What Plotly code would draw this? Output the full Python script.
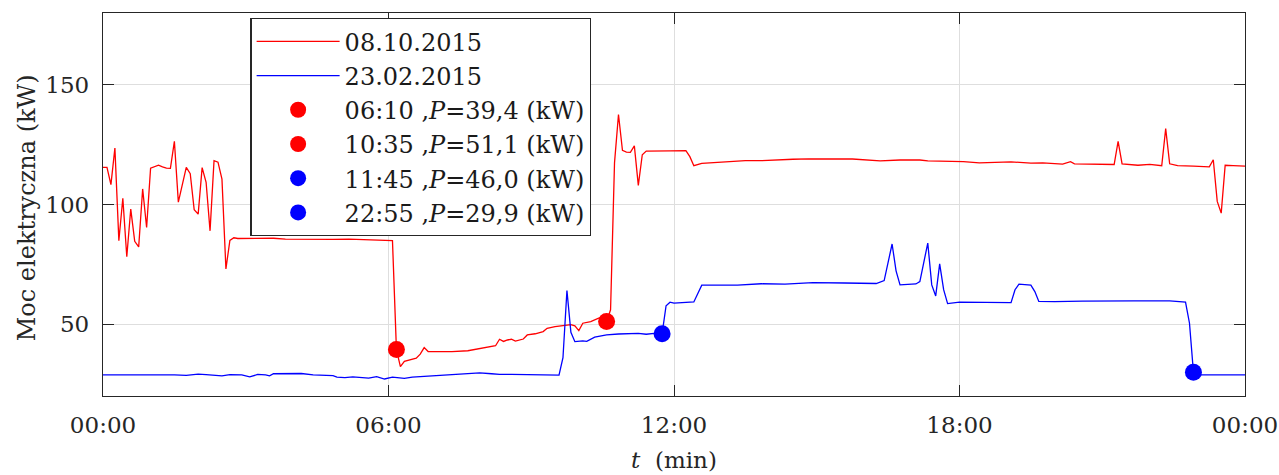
import plotly.graph_objects as go

# --- data (time in minutes from midnight, power in kW) ---
red_t = [0, 5, 10, 15, 20, 25, 30, 35, 40, 45, 50, 55, 60, 65, 70, 75, 80, 85, 90, 95,
         100, 105, 110, 115, 120, 125, 130, 135, 140, 145, 150, 155, 160, 165, 170, 180,
         200, 215, 230, 250, 270, 290, 310, 330, 350, 360, 365, 370, 375, 380, 390, 395,
         400, 405, 410, 420, 440, 460, 475, 490, 495, 500, 505, 510, 515, 520, 525, 530,
         535, 545, 555, 560, 570, 580, 590, 595, 600, 605, 615, 625, 630, 635, 640, 645,
         650, 655, 660, 665, 670, 675, 680, 685, 700, 715, 735, 740, 745, 755, 770, 790,
         810, 830, 850, 870, 890, 910, 930, 945, 955, 980, 1005, 1030, 1040, 1065, 1085,
         1105, 1125, 1145, 1170, 1185, 1210, 1220, 1225, 1245, 1270, 1275, 1280, 1285,
         1305, 1320, 1335, 1340, 1345, 1355, 1375, 1395, 1400, 1405, 1410, 1415, 1425, 1440]
red_p = [115.5, 115.5, 108.3, 123.6, 84.9, 102.6, 78.2, 98.1, 84.6, 82.3, 106.5, 90.4,
         115.2, 115.9, 116.4, 115.7, 115.2, 115.1, 126.4, 101.0, 108.3, 115.5, 112.9, 97.8,
         96.0, 115.4, 109.3, 89.0, 118.3, 117.7, 110.6, 73.1, 85.0, 86.1, 85.8, 85.8,
         85.6, 85.9, 85.5, 85.4, 85.6, 85.4, 85.5, 85.3, 85.3, 85.2, 84.9, 39.4, 32.3,
         34.5, 35.3, 35.8, 37.5, 40.2, 38.6, 38.5, 38.5, 38.9, 39.8, 40.6, 41.0, 43.7,
         42.8, 43.4, 43.7, 42.9, 43.4, 43.8, 45.5, 46.0, 46.9, 48.3, 49.0, 49.4, 49.8,
         49.3, 47.3, 50.4, 51.1, 52.5, 52.9, 51.1, 56.0, 117.4, 137.6, 122.6, 121.9,
         121.8, 124.5, 108.0, 120.8, 122.3, 122.2, 122.4, 122.5, 120.0, 116.2, 117.2,
         117.5, 117.9, 118.3, 118.3, 118.7, 118.9, 119.1, 119.2, 119.0, 119.0, 118.8,
         118.2, 118.6, 118.6, 118.2, 118.1, 117.9, 117.4, 117.6, 117.8, 117.3, 117.4,
         116.9, 117.9, 117.0, 117.0, 116.7, 116.7, 126.4, 117.0, 116.4, 116.8, 116.2,
         131.7, 117.0, 116.2, 116.0, 115.7, 118.7, 101.3, 96.4, 116.4, 116.2, 116.0]

blue_t = [0, 20, 40, 60, 75, 90, 105, 120, 130, 150, 160, 175, 185, 195, 205, 210, 215,
          235, 250, 265, 280, 290, 295, 305, 315, 325, 335, 345, 355, 365, 370, 380, 390,
          400, 420, 435, 455, 475, 490, 500, 515, 540, 560, 575, 580, 585, 590, 595, 605,
          610, 620, 635, 650, 665, 675, 685, 695, 705, 710, 715, 720, 745, 755, 800, 830,
          860, 895, 935, 975, 985, 995, 1000, 1005, 1025, 1030, 1040, 1045, 1050, 1055,
          1060, 1065, 1080, 1100, 1130, 1145, 1150, 1155, 1170, 1175, 1180, 1200, 1235,
          1270, 1300, 1345, 1365, 1370, 1375, 1385, 1410, 1425, 1440]
blue_p = [28.8, 28.8, 28.9, 29.0, 28.8, 28.8, 28.6, 29.1, 28.9, 28.4, 28.9, 28.8, 28.0,
          29.0, 28.8, 28.4, 29.3, 29.4, 29.4, 28.8, 28.6, 28.5, 27.9, 27.7, 28.0, 27.8,
          27.5, 28.1, 27.1, 27.9, 27.7, 27.4, 27.9, 28.1, 28.4, 28.8, 29.0, 29.7, 29.3,
          29.0, 29.0, 28.8, 28.7, 28.7, 36.0, 64.1, 46.6, 42.7, 43.0, 42.8, 44.6, 45.5,
          45.9, 45.9, 46.2, 45.8, 46.2, 46.0, 57.7, 59.2, 58.8, 59.3, 66.3, 66.3, 66.9,
          66.7, 67.4, 67.2, 67.0, 68.2, 83.5, 72.3, 66.4, 66.8, 67.8, 83.9, 66.4, 61.8,
          75.2, 64.4, 58.6, 59.2, 59.1, 59.0, 59.0, 64.4, 66.7, 66.3, 63.6, 59.5, 59.4,
          59.6, 59.5, 59.7, 59.7, 59.2, 50.4, 29.9, 28.8, 28.9, 28.7, 28.8]

point_t = [370, 635, 705, 1375]
point_p = [39.4, 51.1, 46.0, 29.9]
point_names = ["06:10 ,<i>P</i>=39,4 (kW)", "10:35 ,<i>P</i>=51,1 (kW)",
               "11:45 ,<i>P</i>=46,0 (kW)", "22:55 ,<i>P</i>=29,9 (kW)"]
point_colors = ["#ff0000", "#ff0000", "#0000ff", "#0000ff"]

series_names = ["08.10.2015", "23.02.2015"]
tick_vals = [0, 360, 720, 1080, 1440]
tick_text = ["00:00", "06:00", "12:00", "18:00", "00:00"]
y_ticks = [50, 100, 150]
y_title = "Moc elektryczna (kW)"
x_title = "<i>t</i>  (min)"

FONT = "DejaVu Serif"
AX = "#262626"

fig = go.Figure()
fig.add_trace(go.Scatter(x=red_t, y=red_p, mode="lines", name=series_names[0],
                         line=dict(color="#ff0000", width=1.3)))
fig.add_trace(go.Scatter(x=blue_t, y=blue_p, mode="lines", name=series_names[1],
                         line=dict(color="#0000ff", width=1.3)))
for t, p, n, c in zip(point_t, point_p, point_names, point_colors):
    fig.add_trace(go.Scatter(x=[t], y=[p], mode="markers", name=n,
                             marker=dict(color=c, size=17, line=dict(width=0))))

axis_common = dict(showline=True, linecolor=AX, linewidth=1.3, mirror="ticks",
                   ticks="inside", ticklen=11, tickwidth=1.3, tickcolor=AX,
                   showgrid=True, gridcolor="#dedede", gridwidth=1, zeroline=False,
                   automargin=False,
                   tickfont=dict(family=FONT, size=23, color=AX))

fig.update_layout(
    width=1279, height=475,
    margin=dict(l=103, r=34, t=13, b=79),
    paper_bgcolor="white", plot_bgcolor="white",
    font=dict(family=FONT, size=23, color="#1a1a1a"),
    xaxis=dict(range=[0, 1440], tickvals=tick_vals, ticktext=tick_text,
               title=dict(text=x_title, font=dict(family=FONT, size=23, color=AX)),
               ticklabelstandoff=8, **axis_common),
    yaxis=dict(range=[20, 180], tickvals=y_ticks,
               ticklabelstandoff=8, **axis_common),
    legend=dict(x=0.129, y=0.987, xanchor="left", yanchor="top",
                bgcolor="white", bordercolor=AX, borderwidth=1.3,
                font=dict(family=FONT, size=24, color="#1a1a1a"),
                itemwidth=83, tracegroupgap=0),
    showlegend=True,
    annotations=[dict(text=y_title, textangle=-90, xref="paper", yref="paper",
                      x=-0.0663, y=0.491, xanchor="center", yanchor="middle",
                      showarrow=False, font=dict(family=FONT, size=24, color=AX))],
)

fig.write_html("out.html")
